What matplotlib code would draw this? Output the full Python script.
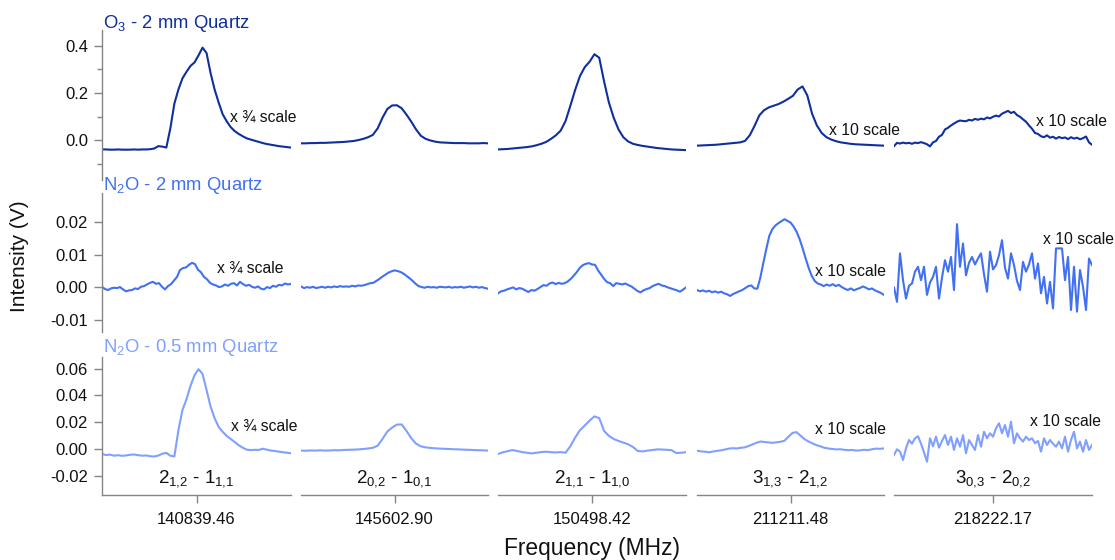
import numpy as np
import matplotlib
matplotlib.use("Agg")
import matplotlib.pyplot as plt

plt.rcParams["font.family"] = ["Liberation Sans", "DejaVu Sans"]
plt.rcParams["mathtext.fontset"] = "custom"
plt.rcParams["mathtext.rm"] = "Liberation Sans"
plt.rcParams["mathtext.it"] = "Liberation Sans:italic"
plt.rcParams["mathtext.bf"] = "Liberation Sans:bold"
plt.rcParams["axes.unicode_minus"] = False

# line centres (MHz) and the transitions they belong to
FREQS = ["140839.46", "145602.90", "150498.42", "211211.48", "218222.17"]
TRANSITIONS = [
    "2$_{1{,}2}$ - 1$_{1{,}1}$",
    "2$_{0{,}2}$ - 1$_{0{,}1}$",
    "2$_{1{,}1}$ - 1$_{1{,}0}$",
    "3$_{1{,}3}$ - 2$_{1{,}2}$",
    "3$_{0{,}3}$ - 2$_{0{,}2}$",
]
SAMPLES = ["O$_3$ - 2 mm Quartz", "N$_2$O - 2 mm Quartz", "N$_2$O - 0.5 mm Quartz"]
COLORS = ["#0f2f9e", "#4170f2", "#80a0ff"]
SCALE_NOTES = ["x ¾ scale", None, None, "x 10 scale", "x 10 scale"]

# spectra, intensity in mV, sampled evenly across each window
o3_140839 = [-40, -40, -41, -41, -40, -41, -41, -41, -40, -41, -40, -40, -39, -36, -26, -28,
             -32, 50, 155, 215, 262, 290, 315, 330, 360, 393, 370, 285, 215, 160, 110, 80,
             55, 38, 26, 16, 7, 2, -3, -8, -13, -17, -20, -23, -26, -28, -30, -32]
o3_145602 = [-14, -14, -13, -13, -12, -12, -11, -10, -9, -8, -6, -4, 0, 5, 12, 22,
             50, 95, 132, 147, 148, 135, 108, 78, 45, 18, 5, -2, -7, -10, -11, -12,
             -13, -13, -13, -14, -14, -14, -13, -14]
o3_150498 = [-40, -39, -38, -36, -34, -32, -30, -27, -22, -16, -8, 5, 20, 40, 80, 145,
             213, 272, 310, 333, 365, 350, 250, 160, 95, 45, 12, -6, -16, -21, -25, -28,
             -31, -34, -36, -38, -40, -41, -42, -43]
o3_211211 = [-24, -23, -22, -21, -20, -18, -16, -14, -12, -10, -4, 20, 60, 105, 127, 139,
             146, 153, 163, 175, 188, 215, 228, 190, 112, 62, 30, 12, 2, -5, -10, -13,
             -16, -18, -19, -20, -21, -22, -23, -24]
o3_218222 = [-26, -12, -15, -11, -14, -12, -16, -11, -13, -9, -13, -18, -27, -10, -4, 14,
             22, 45, 52, 62, 70, 78, 83, 81, 80, 86, 83, 90, 86, 91, 88, 96,
             92, 99, 104, 100, 112, 118, 124, 115, 120, 106, 99, 88, 78, 62, 48, 30,
             26, 16, 12, 20, 10, 14, 6, 13, 8, 11, 4, 12, 6, 10, 3, 8,
             15, -10, -20]

n2o_2mm_140839 = [0.2, -0.5, -0.8, -0.3, -0.1, -0.2, 0.1, -0.6, -1.2, -0.9, -0.8, -0.3, -0.5, 0.2, 0.4, 0.9,
                  1.4, 1.7, 1.1, 1.3, 0.2, -0.6, 0.4, 1.0, 2.1, 3.2, 5.3, 5.9, 6.1, 6.9, 7.5, 7.1,
                  5.4, 4.6, 3.2, 2.5, 1.4, 0.9, 0.6, 0.1, 0.3, 0.9, 0.5, 1.1, 1.3, 0.6, 1.7, 1.0,
                  0.5, 0.8, 0.2, -0.1, 0.3, -0.4, -0.6, 0.1, -0.2, 0.5, 0.2, 0.8, 0.6, 1.2, 0.9, 1.1]
n2o_2mm_145602 = [0.3, -0.2, 0.1, -0.1, 0.2, -0.2, 0.0, 0.2, -0.1, 0.2, 0.0, 0.3, 0.1, 0.4, 0.2, 0.3,
                  0.2, 0.5, 0.3, 0.6, 0.5, 0.7, 1.0, 1.3, 1.4, 2.0, 2.6, 3.3, 3.9, 4.5, 4.9, 5.2,
                  5.0, 4.7, 4.2, 3.5, 2.8, 2.0, 1.1, 0.4, 0.1, -0.1, 0.2, 0.0, 0.1, -0.1, 0.2, 0.1,
                  0.0, 0.2, -0.1, 0.1, 0.0, 0.2, -0.1, 0.1, 0.3, 0.0, 0.2, -0.1, 0.1, -0.2, -0.4]
n2o_2mm_150498 = [-1.8, -1.2, -1.0, -0.6, -0.3, 0.0, -0.6, -0.2, -0.4, -0.9, -1.4, -0.8, -1.0, -0.5, 0.1, 0.7,
                  0.5, 1.2, 1.5, 1.0, 1.4, 1.1, 1.3, 1.8, 2.6, 3.6, 4.7, 6.0, 6.8, 7.2, 7.4, 7.0,
                  6.9, 5.2, 3.9, 2.6, 1.6, 1.3, 0.4, 1.3, 1.1, 0.9, 1.2, 0.7, 0.3, -0.4, -1.1, -1.5,
                  -0.9, -0.5, -0.2, 0.4, 0.8, 1.1, 0.6, 0.4, 0.0, -0.3, -0.6, -0.9, -1.3, -0.7, 0.0]
n2o_2mm_211211 = [-0.8, -1.2, -0.9, -1.3, -1.0, -1.5, -1.2, -1.6, -1.3, -1.8, -2.1, -2.6, -2.0, -1.6, -1.2, -0.8,
                  -0.2, 0.4, 0.6, -0.3, -0.4, 3.0, 7.5, 11.8, 15.8, 17.8, 18.9, 19.6, 20.2, 20.8, 20.3, 19.8,
                  18.6, 17.0, 14.8, 12.0, 8.9, 6.0, 3.6, 2.0, 1.2, 0.9, 0.4, 0.9, 0.5, 1.0, 0.4, 0.8,
                  0.1, -0.4, -0.8, -0.3, -0.9, -0.5, -0.2, 0.3, -0.1, -0.6, -0.3, -0.9, -1.3, -1.7, -2.3]
n2o_2mm_218222 = [0.0, -4.4, 10.4, 2.2, -3.4, 0.5, 1.2, 4.8, 6.3, 2.2, 6.3, -2.3, 1.5, 3.2, 6.3, -3.4,
                  3.0, 8.3, 4.8, 9.3, -0.8, 19.3, 6.3, 13.4, 3.7, 7.5, 9.3, 7.0, 8.8, 10.4, 4.0, -1.3,
                  10.9, 5.5, 6.8, 9.8, 14.4, 6.0, 2.7, 10.4, 6.8, 2.0, -0.8, 7.8, 4.8, 7.0, 10.4, 2.7,
                  7.3, -1.8, 3.2, -4.9, 1.7, -6.4, 11.9, 11.9, 11.9, 2.2, 9.3, -6.9, 6.3, -7.4, 5.3, 0.2,
                  -6.9, 8.8, 6.8]

n2o_05mm_140839 = [-3.7, -4.5, -4.2, -5.0, -4.6, -5.1, -4.8, -4.3, -4.1, -4.6, -5.0, -4.8, -5.4, -5.6, -4.9, -3.5,
                   -2.9, -5.0, -5.5, 14.0, 29.0, 37.0, 47.0, 55.0, 59.5, 56.0, 44.0, 31.6, 23.0, 16.5, 12.8, 9.8,
                   7.5, 5.2, 2.8, 1.0, -0.5, -0.8, -0.6, -0.7, 0.2, -0.5, -1.2, -1.5, -2.0, -2.4, -2.8, -3.2]
n2o_05mm_145602 = [-1.2, -1.3, -1.1, -1.2, -1.0, -1.2, -1.1, -0.9, -1.0, -0.7, -0.6, -0.5, -0.3, 0.0, 0.4, 0.9,
                   2.5, 7.5, 13.0, 16.0, 18.2, 18.3, 13.5, 8.0, 4.0, 2.0, 1.2, 0.8, 0.5, 0.3, 0.1, 0.0,
                   -0.2, -0.3, -0.5, -0.6, -0.8, -0.9, -1.0, -1.2]
n2o_05mm_150498 = [-3.7, -2.5, -1.6, -0.8, -1.5, -2.3, -2.8, -3.3, -2.8, -2.3, -2.0, -2.4, -2.6, -2.3, -2.8, 2.0,
                   8.5, 14.0, 17.5, 21.2, 24.3, 23.0, 13.5, 9.8, 7.5, 6.0, 4.8, 3.5, 1.5, -1.5, -1.8, -1.2,
                   -0.8, -0.3, -0.4, -0.6, -0.9, -3.0, -2.8, -2.4]
n2o_05mm_211211 = [-1.2, -1.8, -2.0, -2.5, -1.9, -1.4, -1.0, -0.4, 0.3, 0.6, 0.4, 0.9, 1.2, 2.3, 3.5, 4.7,
                   5.6, 5.2, 4.9, 4.6, 5.0, 5.4, 6.2, 9.2, 12.0, 12.6, 10.0, 7.4, 5.6, 4.2, 2.9, 2.0,
                   0.9, 0.4, 0.0, -0.3, -0.2, -0.6, -0.9, -0.7, -1.2, -1.0, -0.6, -0.8, -0.2, 0.3, 0.1, 0.5]
n2o_05mm_218222 = [-4.5, -0.2, -2.0, -8.2, 0.5, 6.7, 4.0, 8.0, 9.5, 4.0, -2.5, -9.5, 8.0, 2.0, 9.2, 1.0,
                   6.0, 10.4, 3.0, 9.2, -0.7, 8.0, 1.7, 10.4, -3.2, 6.7, 3.0, -0.7, 10.4, 1.7, 12.9, 8.0,
                   11.7, 9.2, 15.4, 19.2, 11.7, 17.9, 9.2, 20.4, 4.3, 11.7, 8.0, 5.5, 9.2, 6.7, 8.0, 4.3,
                   6.0, -2.0, 8.0, 3.0, 6.7, 4.0, 1.7, 5.5, 0.5, 9.2, -2.0, 6.7, 12.9, 0.5, 5.5, -2.0,
                   6.7, -0.7, 3.0]

TRACES = [
    [o3_140839, o3_145602, o3_150498, o3_211211, o3_218222],
    [n2o_2mm_140839, n2o_2mm_145602, n2o_2mm_150498, n2o_2mm_211211, n2o_2mm_218222],
    [n2o_05mm_140839, n2o_05mm_145602, n2o_05mm_150498, n2o_05mm_211211, n2o_05mm_218222],
]

# y axis setup per sample row
YLIMS = [(-0.170, 0.468), (-0.0136, 0.0288), (-0.0343, 0.0686)]
YMAJOR = [[0.0, 0.2, 0.4], [-0.01, 0.0, 0.01, 0.02], [-0.02, 0.0, 0.02, 0.04, 0.06]]
YMINOR = [[-0.1, 0.1, 0.3], [], []]
YFMT = ["{:.1f}", "{:.2f}", "{:.2f}"]

# figure layout in pixels
W, H = 1115, 560
COL_PX = [(102, 291), (301, 488), (498, 686), (697, 884), (894, 1092)]
ROW_PX = [(30, 180), (193, 332), (357, 495)]
TITLE_BASE_PX = [27.5, 190.5, 351.5]
NOTE_PX = [
    [(230, 117), None, None, (829, 130), (1036, 122)],
    [(217, 268), None, None, (815, 271), (1043, 239)],
    [(231, 426), None, None, (815, 429), (1030, 421)],
]
AXIS_GREY = "#858585"


def px(x, y):
    return x / W, 1 - y / H


fig = plt.figure(figsize=(W / 100, H / 100), dpi=100)

for r in range(3):
    top, bottom = ROW_PX[r]
    for c in range(5):
        left, right = COL_PX[c]
        ax = fig.add_axes([left / W, 1 - bottom / H, (right - left) / W, (bottom - top) / H])
        ax.patch.set_visible(False)

        vals = np.array(TRACES[r][c]) / 1000.0
        offset = np.linspace(-1, 1, len(vals))
        ax.plot(offset, vals, color=COLORS[r], lw=1.5, solid_joinstyle="round")
        ax.set_xlim(-1, 1)
        ax.set_ylim(*YLIMS[r])

        for side in ["top", "right"]:
            ax.spines[side].set_visible(False)
        ax.spines["left"].set_visible(c == 0)
        ax.spines["bottom"].set_visible(r == 2)
        for side in ["left", "bottom"]:
            ax.spines[side].set_color(AXIS_GREY)
            ax.spines[side].set_linewidth(1.0)

        if c == 0:
            ax.set_yticks(YMAJOR[r])
            ax.set_yticklabels([YFMT[r].format(v) for v in YMAJOR[r]])
            ax.set_yticks(YMINOR[r], minor=True)
            ax.tick_params(axis="y", which="major", length=6, width=1.0, color=AXIS_GREY,
                           labelsize=12, labelcolor="#111111", pad=4)
            ax.tick_params(axis="y", which="minor", length=3.5, width=1.0, color=AXIS_GREY)
        else:
            ax.set_yticks([])

        if r == 2:
            ax.set_xticks([0])
            ax.set_xticklabels([FREQS[c]])
            ax.tick_params(axis="x", length=6, width=1.0, color=AXIS_GREY,
                           labelsize=12, labelcolor="#111111", pad=6)
            ax.text(0.5, 0.12, TRANSITIONS[c], transform=ax.transAxes, ha="center",
                    va="center", fontsize=13.5, color="#111111")
        else:
            ax.set_xticks([])

        if NOTE_PX[r][c] is not None:
            nx, ny = px(*NOTE_PX[r][c])
            fig.text(nx, ny, SCALE_NOTES[c], ha="left", va="center", fontsize=11.3,
                     color="#111111")

    tx, ty = px(103, TITLE_BASE_PX[r])
    fig.text(tx, ty, SAMPLES[r], ha="left", va="baseline", fontsize=13.3, color=COLORS[r])

fig.text(*px(20, 256), "Intensity (V)", rotation=90, ha="center", va="center",
         fontsize=15, color="#111111")
fig.text(*px(592, 548), "Frequency (MHz)", ha="center", va="center",
         fontsize=16.4, color="#111111")

fig.savefig("out.png", dpi=100)
